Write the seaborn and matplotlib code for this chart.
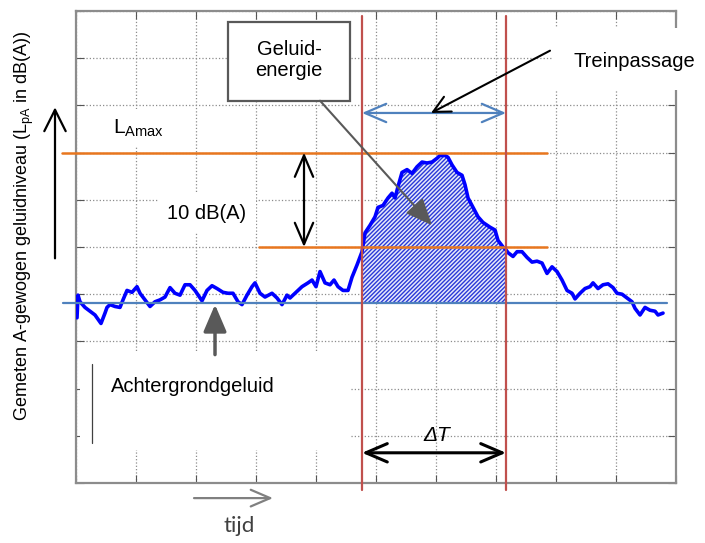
import numpy as np
import pandas as pd
import matplotlib
matplotlib.use("Agg")
import matplotlib.pyplot as plt
from matplotlib.patches import Rectangle
import seaborn as sns

# measured level of a train passage (time in s, level in dB(A))
time_s = [0.1, 0.2, 0.4, 0.9, 1.4, 1.9, 2.5, 2.9, 3.1, 3.4, 3.9, 4.4, 4.7, 5.1, 5.6,
          6.1, 6.4, 6.9, 7.4, 7.9, 8.4, 8.9, 9.4, 9.9, 10.4, 10.9, 11.4, 11.9, 12.6,
          13.1, 13.6, 14.1, 14.7, 15.2, 15.7, 16.2, 16.6, 17.1, 17.6, 17.9, 18.4,
          18.9, 19.6, 20.1, 20.6, 21.1, 21.4, 21.9, 22.6, 23.2, 23.6, 24.0, 24.4,
          24.9, 25.4, 25.8, 26.2, 26.7, 27.2, 27.6, 28.1, 28.6, 28.9, 29.4, 29.9,
          30.2, 30.7, 31.2, 31.6, 31.9, 32.2, 32.6, 33.1, 33.6, 34.1, 34.6, 35.1,
          35.6, 36.1, 36.4, 36.9, 37.2, 37.6, 38.1, 38.6, 38.9, 39.2, 39.7, 40.2,
          40.7, 41.4, 41.9, 42.2, 42.7, 43.0, 43.2, 43.7, 44.1, 44.6, 45.1, 45.6,
          46.1, 46.6, 47.1, 47.6, 48.1, 48.6, 49.1, 49.6, 49.9, 50.4, 50.9, 51.4,
          51.7, 52.2, 52.7, 53.2, 53.7, 54.1, 54.6, 55.1, 55.6, 55.9, 56.4, 56.9,
          57.4, 57.9, 58.2, 58.7]
level_db = [47.5, 49.9, 49.2, 48.6, 48.2, 47.8, 46.9, 48.0, 48.6, 48.9, 48.7, 48.6,
            49.4, 50.4, 50.2, 50.8, 50.1, 49.4, 48.7, 49.2, 49.4, 49.7, 50.7, 50.1,
            49.9, 51.0, 51.0, 50.4, 49.3, 50.4, 50.9, 50.6, 50.2, 50.1, 50.1, 49.2,
            48.9, 49.9, 50.8, 51.2, 50.1, 49.7, 50.1, 49.6, 48.9, 49.9, 49.6, 50.1,
            50.8, 51.2, 51.5, 50.8, 52.4, 51.2, 51.0, 51.5, 50.8, 50.4, 50.4, 51.8,
            53.1, 54.5, 56.5, 57.3, 58.2, 59.2, 59.4, 60.2, 60.7, 60.2, 61.4, 62.9,
            63.2, 62.8, 63.5, 64.0, 63.9, 64.0, 64.4, 64.7, 64.7, 64.5, 63.7, 62.9,
            62.6, 61.6, 60.2, 59.2, 58.2, 57.6, 57.1, 56.8, 55.7, 55.0, 54.7, 54.4,
            54.0, 54.5, 54.5, 53.9, 53.4, 53.5, 53.3, 52.2, 52.9, 52.4, 51.5, 50.4,
            50.1, 49.5, 50.1, 50.6, 50.8, 51.2, 50.6, 51.0, 51.1, 50.7, 50.1, 50.0,
            49.6, 49.2, 48.5, 47.8, 48.6, 48.3, 48.2, 47.8, 48.0]

background_db = 49.1
lamax_db = 65.0
lamax_minus10_db = 55.0
passage_start = 28.6
passage_end = 43.0

df = pd.DataFrame({"tijd": time_s, "niveau": level_db})

sns.set_style("white")
plt.rcParams["font.family"] = ["Liberation Sans", "DejaVu Sans"]
plt.rcParams["text.color"] = "black"
plt.rcParams["mathtext.fontset"] = "custom"
plt.rcParams["mathtext.rm"] = "Liberation Sans"
plt.rcParams["mathtext.it"] = "Liberation Sans:italic"
plt.rcParams["hatch.linewidth"] = 1.0

fig = plt.figure(figsize=(7.05, 5.43), dpi=100)
ax = fig.add_axes([0.1078, 0.1105, 0.8511, 0.8692])

# area between background and curve during passage
seg = df[(df["tijd"] >= passage_start) & (df["tijd"] <= passage_end)]
ax.fill_between(seg["tijd"], background_db, seg["niveau"], facecolor="#e6e9fa",
                hatch="////////", edgecolor="#2a3ad8", linewidth=0, zorder=2)

sns.lineplot(data=df, x="tijd", y="niveau", color="#0000ff", linewidth=2.6,
             ax=ax, zorder=3)

ax.set_xlim(0, 60)
ax.set_ylim(30, 80)
ax.set_xticks(np.arange(0, 61, 6))
ax.set_yticks(np.arange(30, 81, 5))
ax.set_xticklabels([])
ax.set_yticklabels([])
ax.set_xlabel("")
ax.set_ylabel("")
ax.grid(True, linestyle=":", color="#8c8c8c", linewidth=0.9)
ax.tick_params(direction="in", length=6, color="#555555", top=True, right=True,
               left=True, bottom=True)
for sp in ax.spines.values():
    sp.set_color("#8c8c8c")
    sp.set_linewidth(1.6)

open_head = "<->,head_length=0.7,head_width=0.3"

# reference lines
ax.plot([-1.3, 59.1], [background_db, background_db], color="#4f81bd", lw=1.6,
        clip_on=False, zorder=4)
ax.plot([-1.4, 47.1], [lamax_db, lamax_db], color="#e8761e", lw=1.8,
        clip_on=False, zorder=4)
ax.plot([18.3, 47.1], [lamax_minus10_db, lamax_minus10_db], color="#e8761e",
        lw=1.8, zorder=4)
for t in (passage_start, passage_end):
    ax.plot([t, t], [29.3, 79.5], color="#c0504d", lw=1.6, clip_on=False, zorder=4)

# train passage arrow + label
ax.annotate("", xy=(passage_end, 69.2), xytext=(passage_start, 69.2),
            arrowprops=dict(arrowstyle=open_head, mutation_scale=22,
                            color="#4f81bd", lw=1.6, shrinkA=0, shrinkB=0), zorder=5)
ax.add_patch(Rectangle((47.6, 71.6), 16, 6.6, facecolor="white", edgecolor="none",
                       clip_on=False, zorder=3))
ax.text(49.7, 74.6, "Treinpassage", fontsize=14.5, va="center", ha="left", zorder=6)
ax.annotate("", xy=(35.5, 69.2), xytext=(47.4, 75.8),
            arrowprops=dict(arrowstyle="->,head_length=0.6,head_width=0.3",
                            mutation_scale=20, color="black", lw=1.5,
                            shrinkA=0, shrinkB=0), zorder=6)

# 10 dB arrow
ax.annotate("", xy=(22.8, lamax_minus10_db), xytext=(22.8, lamax_db),
            arrowprops=dict(arrowstyle=open_head, mutation_scale=22,
                            color="black", lw=1.6, shrinkA=0, shrinkB=0), zorder=5)
ax.text(13.1, 58.6, "10 dB(A)", fontsize=14.5, ha="center", va="center", zorder=6,
        bbox=dict(facecolor="white", edgecolor="none", pad=7))
ax.text(3.7, 67.6, r"L$_{\mathrm{Amax}}$", fontsize=15, ha="left", va="center",
        zorder=6, bbox=dict(facecolor="white", edgecolor="none", pad=6))

# geluidenergie box
ax.add_patch(Rectangle((15.2, 70.5), 12.2, 8.3, facecolor="white",
                       edgecolor="#595959", lw=1.6, zorder=5))
ax.text(21.3, 74.8, "Geluid-\nenergie", fontsize=14.5, ha="center", va="center",
        linespacing=1.15, zorder=6)
ax.annotate("", xy=(35.6, 57.3), xytext=(24.4, 70.5),
            arrowprops=dict(arrowstyle="-|>,head_length=0.75,head_width=0.32",
                            color="#595959", lw=1.5, shrinkA=0, shrinkB=0,
                            mutation_scale=22), zorder=6)

# background noise
ax.add_patch(Rectangle((0.4, 33.5), 27.0, 10.3, facecolor="white", edgecolor="none",
                       zorder=3))
ax.plot([1.6, 1.6], [34.2, 42.6], color="#404040", lw=0.9, zorder=4)
ax.text(3.5, 40.2, "Achtergrondgeluid", fontsize=14.5, ha="left", va="center",
        zorder=6)
ax.annotate("", xy=(13.9, 48.9), xytext=(13.9, 43.6),
            arrowprops=dict(arrowstyle="-|>,head_length=0.75,head_width=0.32",
                            color="#595959", lw=2.5, shrinkA=0, shrinkB=0,
                            mutation_scale=22), zorder=6)

# delta T
ax.annotate("", xy=(passage_end, 33.2), xytext=(passage_start, 33.2),
            arrowprops=dict(arrowstyle=open_head, mutation_scale=22,
                            color="black", lw=2.2, shrinkA=0, shrinkB=0), zorder=5)
ax.text(36.1, 35.0, "ΔT", fontsize=15, fontstyle="italic", ha="center",
        va="center", zorder=6)

# axis annotations
ax.annotate("", xy=(-2.1, 69.8), xytext=(-2.1, 53.8), annotation_clip=False,
            arrowprops=dict(arrowstyle="->,head_length=0.7,head_width=0.35",
                            mutation_scale=22, color="black", lw=1.6,
                            shrinkA=0, shrinkB=0))
ax.annotate("", xy=(19.7, 28.4), xytext=(11.8, 28.4), annotation_clip=False,
            arrowprops=dict(arrowstyle="->,head_length=0.7,head_width=0.3",
                            mutation_scale=20, color="#808080", lw=1.6,
                            shrinkA=0, shrinkB=0))
ax.text(16.3, 25.4, "tijd", fontsize=16, ha="center", va="center", color="#404040",
        family=["Lato", "DejaVu Sans"], clip_on=False)
fig.text(0.034, 0.584, r"Gemeten A-gewogen geluidniveau (L$_{\mathrm{pA}}$ in dB(A))",
         rotation=90, fontsize=13, ha="center", va="center")

fig.savefig("out.png", dpi=100)
